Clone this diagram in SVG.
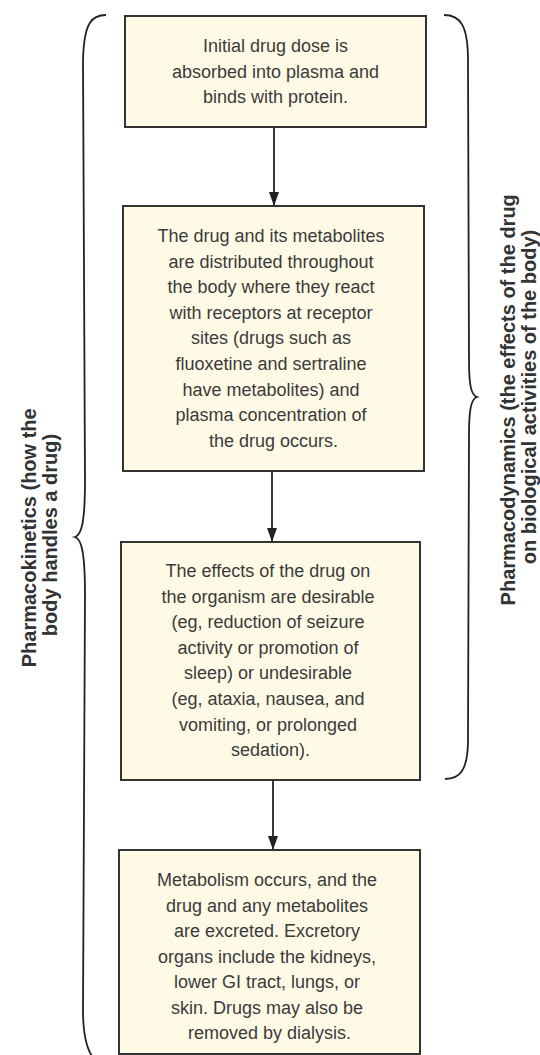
<svg xmlns="http://www.w3.org/2000/svg" width="540" height="1055" viewBox="0 0 540 1055">
<defs>
<style>
.box{fill:#fffae6;stroke:#333;stroke-width:2}
.t{font-family:"Liberation Sans",Arial,sans-serif;font-size:18px;fill:#3a3a3a;text-anchor:middle}
.lbl{font-family:"Liberation Sans",Arial,sans-serif;font-size:20px;font-weight:bold;fill:#333;text-anchor:middle}
.brace{fill:none;stroke:#222;stroke-width:1.8}
.conn{stroke:#222;stroke-width:1.8;fill:none}
</style>
<marker id="arr" viewBox="0 0 14 10" refX="14" refY="5" markerWidth="14" markerHeight="10" orient="auto" markerUnits="userSpaceOnUse">
<path d="M0,0 L14,5 L0,10 Z" fill="#222"/>
</marker>
</defs>

<g id="brace-left">
<path class="brace" d="M106,15 C92,15 84,22 83,60 L85,480 C85,520 82,535 75,537 C82,539 85,555 85,595 L83,1010 C83,1040 88,1050 92,1056"/>
</g>
<g id="brace-right">
<path class="brace" d="M444,15 C460,15 468,25 468,60 L469,360 C469,385 471,395 477,397 C471,399 469,410 469,435 L468,740 C468,770 460,779 445,779"/>
</g>

<g id="label-left">
<text class="lbl" transform="translate(36,535) rotate(-90)">
<tspan x="0" y="0">Pharmacokinetics (how the</tspan>
<tspan x="0" y="21">body handles a drug)</tspan>
</text>
</g>
<g id="label-right">
<text class="lbl" transform="translate(515,397) rotate(-90)">
<tspan x="0" y="0">Pharmacodynamics (the effects of the drug</tspan>
<tspan x="0" y="21">on biological activities of the body)</tspan>
</text>
</g>

<g id="connectors">
<line class="conn" x1="274" y1="127" x2="274" y2="206" marker-end="url(#arr)"/>
<line class="conn" x1="272" y1="471" x2="272" y2="542" marker-end="url(#arr)"/>
<line class="conn" x1="273" y1="780" x2="273" y2="850" marker-end="url(#arr)"/>
</g>

<g id="node1">
<rect class="box" x="125" y="16" width="301" height="111"/>
<text class="t"><tspan x="275.5" y="52">Initial drug dose is</tspan><tspan x="275.5" y="77.5">absorbed into plasma and</tspan><tspan x="275.5" y="103">binds with protein.</tspan></text>
</g>

<g id="node2">
<rect class="box" x="123" y="206" width="301" height="265"/>
<text class="t">
<tspan x="273.5" y="242">The drug and its metabolites</tspan>
<tspan x="273.5" y="267.6">are distributed throughout</tspan>
<tspan x="273.5" y="293.2">the body where they react</tspan>
<tspan x="273.5" y="318.8">with receptors at receptor</tspan>
<tspan x="273.5" y="344.4">sites (drugs such as</tspan>
<tspan x="273.5" y="370">fluoxetine and sertraline</tspan>
<tspan x="273.5" y="395.6">have metabolites) and</tspan>
<tspan x="273.5" y="421.2">plasma concentration of</tspan>
<tspan x="273.5" y="446.8">the drug occurs.</tspan>
</text>
</g>

<g id="node3">
<rect class="box" x="121" y="542" width="299" height="238"/>
<text class="t">
<tspan x="270.5" y="577">The effects of the drug on</tspan>
<tspan x="270.5" y="602.6">the organism are desirable</tspan>
<tspan x="270.5" y="628.2">(eg, reduction of seizure</tspan>
<tspan x="270.5" y="653.8">activity or promotion of</tspan>
<tspan x="270.5" y="679.4">sleep) or undesirable</tspan>
<tspan x="270.5" y="705">(eg, ataxia, nausea, and</tspan>
<tspan x="270.5" y="730.6">vomiting, or prolonged</tspan>
<tspan x="270.5" y="756.2">sedation).</tspan>
</text>
</g>

<g id="node4">
<rect class="box" x="119" y="850" width="301" height="204"/>
<text class="t">
<tspan x="269.5" y="886">Metabolism occurs, and the</tspan>
<tspan x="269.5" y="911.5">drug and any metabolites</tspan>
<tspan x="269.5" y="937">are excreted. Excretory</tspan>
<tspan x="269.5" y="962.5">organs include the kidneys,</tspan>
<tspan x="269.5" y="988">lower GI tract, lungs, or</tspan>
<tspan x="269.5" y="1013.5">skin. Drugs may also be</tspan>
<tspan x="269.5" y="1039">removed by dialysis.</tspan>
</text>
</g>
</svg>
